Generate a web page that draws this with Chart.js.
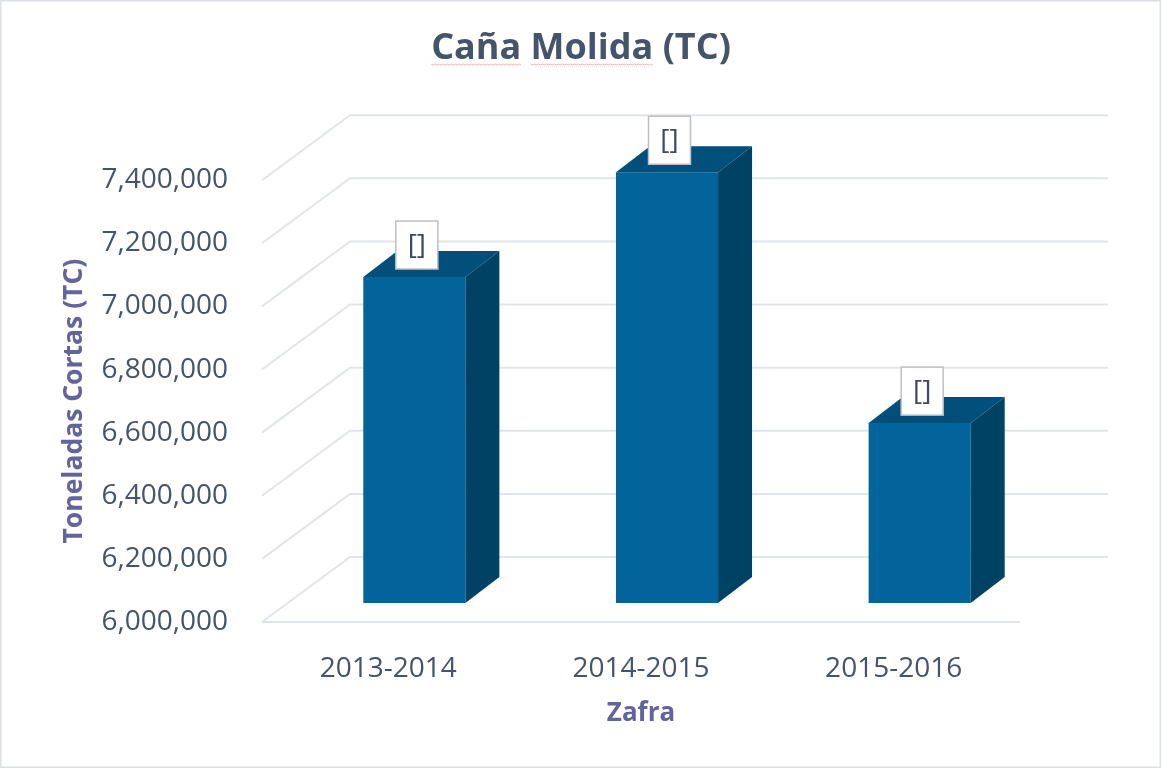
<!DOCTYPE html>
<html><head><meta charset="utf-8">
<script src="https://cdn.jsdelivr.net/npm/chart.js@4/dist/chart.umd.min.js"></script>
<style>html,body{margin:0;padding:0;background:#fff;} canvas{display:block}</style>
</head><body>
<canvas id="c" width="1162" height="769"></canvas>
<script>
const categories = ['2013-2014', '2014-2015', '2015-2016'];
const canaMolida = [7033000, 7365000, 6570000];
const dataLabels = ['[]', '[]', '[]'];
const yTicks = [6000000, 6200000, 6400000, 6600000, 6800000, 7000000, 7200000, 7400000];
const titleText = 'Caña Molida (TC)';
const yTitleText = 'Toneladas Cortas (TC)';
const xTitleText = 'Zafra';

const WALL = {dx: 88, dy: -65};
const SHIFT = {dx: 26, dy: -19};
const BAR = {dx: 34, dy: -26};
const FONT = '"Open Sans", "Noto Sans", sans-serif';

const threeD = {
  id: 'threeD',
  beforeDraw(chart) {
    const ctx = chart.ctx;
    ctx.save();
    ctx.fillStyle = '#ffffff';
    ctx.fillRect(0, 0, chart.width, chart.height);
    ctx.strokeStyle = '#DCE0E5';
    ctx.lineWidth = 1.5;
    ctx.strokeRect(0.75, 0.75, chart.width - 2.5, chart.height - 2.5);
    ctx.restore();
  },
  beforeDatasetsDraw(chart) {
    const {ctx, chartArea: a, scales: {y}} = chart;
    ctx.save();
    ctx.strokeStyle = '#E1E5EA';
    ctx.lineWidth = 2;
    yTicks.forEach(v => {
      const py = y.getPixelForValue(v);
      ctx.beginPath();
      ctx.moveTo(a.left, py);
      ctx.lineTo(a.left + WALL.dx, py + WALL.dy);
      ctx.lineTo(a.right + WALL.dx, py + WALL.dy);
      ctx.stroke();
    });
    ctx.beginPath();
    ctx.moveTo(a.left, a.bottom);
    ctx.lineTo(a.right, a.bottom);
    ctx.stroke();
    ctx.restore();
    ctx.save();
    ctx.translate(SHIFT.dx, SHIFT.dy);
  },
  afterDatasetsDraw(chart) {
    const ctx = chart.ctx;
    const meta = chart.getDatasetMeta(0);
    meta.data.forEach((el, i) => {
      const {x, y, base, width} = el.getProps(['x', 'y', 'base', 'width'], true);
      const l = x - width / 2, r = x + width / 2;
      ctx.fillStyle = '#014F7A';
      ctx.beginPath();
      ctx.moveTo(l, y); ctx.lineTo(l + BAR.dx, y + BAR.dy);
      ctx.lineTo(r + BAR.dx, y + BAR.dy); ctx.lineTo(r, y);
      ctx.closePath(); ctx.fill();
      ctx.fillStyle = '#004264';
      ctx.beginPath();
      ctx.moveTo(r, y); ctx.lineTo(r + BAR.dx, y + BAR.dy);
      ctx.lineTo(r + BAR.dx, base + BAR.dy); ctx.lineTo(r, base);
      ctx.closePath(); ctx.fill();
    });
    meta.data.forEach((el, i) => {
      const {x, y} = el.getProps(['x', 'y'], true);
      const w = 42, h = 48;
      const cx = x + 2.5, bottom = y - 8;
      ctx.fillStyle = '#ffffff';
      ctx.fillRect(cx - w / 2, bottom - h, w, h);
      ctx.strokeStyle = '#BFBFBF';
      ctx.lineWidth = 1.5;
      ctx.strokeRect(cx - w / 2, bottom - h, w, h);
      ctx.fillStyle = '#404A5A';
      ctx.font = '28px ' + FONT;
      ctx.textAlign = 'center';
      ctx.textBaseline = 'middle';
      ctx.fillText(dataLabels[i], cx, bottom - h / 2 + 1);
    });
    ctx.restore();
  },
  afterDraw(chart) {
    const ctx = chart.ctx;
    ctx.save();
    ctx.font = 'bold 36px ' + FONT;
    const total = ctx.measureText(titleText).width;
    const start = chart.width / 2 - total / 2;
    const words = titleText.split(' ');
    const sp = ctx.measureText(' ').width;
    let xx = start;
    ctx.strokeStyle = 'rgba(235,120,120,0.55)';
    ctx.lineWidth = 1;
    for (let k = 0; k < 2; k++) {
      const ww = ctx.measureText(words[k]).width;
      ctx.beginPath();
      for (let p = 0; p <= ww; p += 2) {
        const yy = 64 + ((p / 2) % 2 ? 1 : 0);
        if (p === 0) ctx.moveTo(xx + p, yy); else ctx.lineTo(xx + p, yy);
      }
      ctx.stroke();
      xx += ww + sp;
    }
    ctx.restore();
  }
};

new Chart(document.getElementById('c'), {
  type: 'bar',
  data: {
    labels: categories,
    datasets: [{
      data: canaMolida,
      base: yTicks[0],
      backgroundColor: '#02649A',
      borderWidth: 0,
      clip: false,
      categoryPercentage: 0.404,
      barPercentage: 1.0
    }]
  },
  options: {
    responsive: false,
    animation: false,
    layout: {padding: 0},
    plugins: {
      legend: {display: false},
      tooltip: {enabled: false},
      title: {
        display: true,
        text: titleText,
        color: '#44546A',
        font: {family: FONT, size: 36, weight: 'bold'},
        padding: {top: 27, bottom: 110}
      }
    },
    scales: {
      x: {
        type: 'category',
        grid: {display: false, drawTicks: false},
        border: {display: false},
        ticks: {color: '#44546A', font: {family: FONT, size: 28}, padding: 30},
        title: {display: true, text: xTitleText, color: '#63639E',
                font: {family: FONT, size: 26, weight: 'bold'}, padding: {top: 0, bottom: 40}},
        afterFit(s) { s.height = 147; }
      },
      y: {
        position: 'left',
        min: 6000000,
        max: 7400000,
        grid: {display: false, drawTicks: false},
        border: {display: false},
        afterBuildTicks(s) { s.ticks = yTicks.map(v => ({value: v})); },
        ticks: {
          color: '#44546A', font: {family: FONT, size: 28}, padding: 34,
          callback: v => Number(v).toLocaleString('en-US')
        },
        title: {display: true, text: yTitleText, color: '#63639E',
                font: {family: FONT, size: 26.5, weight: 'bold'}, padding: {top: 59, bottom: 0}},
        afterFit(s) { s.width = 262; }
      },
      yR: {
        position: 'right',
        grid: {display: false, drawTicks: false},
        border: {display: false},
        ticks: {display: false},
        afterFit(s) { s.width = 142; }
      }
    }
  },
  plugins: [threeD]
});
</script>
</body></html>
